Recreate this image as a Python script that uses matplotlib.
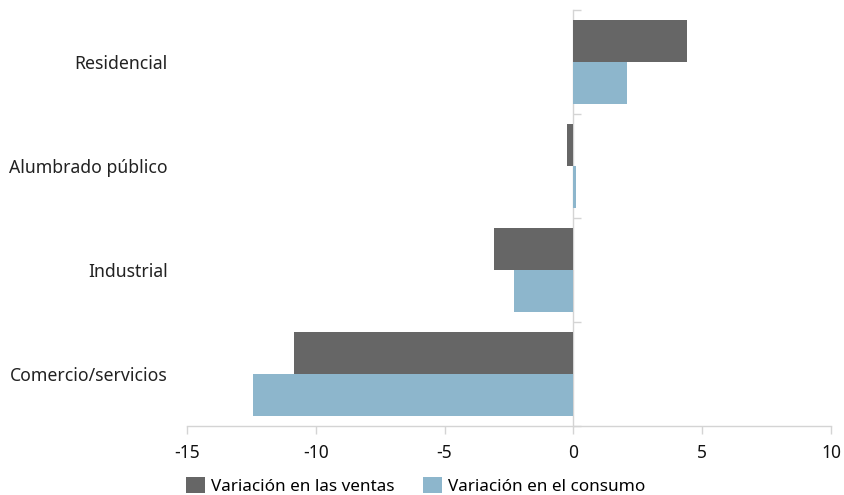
import matplotlib.pyplot as plt
import numpy as np
from matplotlib.patches import Patch

plt.rcParams['font.family'] = ['Noto Sans', 'DejaVu Sans']
plt.rcParams['axes.unicode_minus'] = False

categorias = ['Residencial', 'Alumbrado público', 'Industrial', 'Comercio/servicios']
ventas = [4.4, -0.25, -3.1, -10.85]
consumo = [2.1, 0.12, -2.3, -12.45]

color_ventas = '#666666'
color_consumo = '#8db6cc'
gris_eje = '#d4d4d4'

fig = plt.figure(figsize=(8.44, 4.95), dpi=100)
ax = fig.add_axes([187 / 844, 1 - 426 / 495, (831 - 187) / 844, (426 - 10) / 495])

y = np.arange(len(categorias))
alto = 0.4
ax.barh(y - alto / 2, ventas, height=alto, color=color_ventas, label='Variación en las ventas', zorder=3)
ax.barh(y + alto / 2, consumo, height=alto, color=color_consumo, label='Variación en el consumo', zorder=3)

ax.set_xlim(-15, 10)
ax.set_ylim(len(categorias) - 0.5, -0.5)
ax.set_xticks([-15, -10, -5, 0, 5, 10])
ax.tick_params(axis='x', direction='out', length=6, width=1, color=gris_eje,
               labelsize=12.5, labelcolor='#111111', pad=7)

ax.set_yticks(y)
ax.set_yticklabels(categorias)
ax.tick_params(axis='y', length=0, labelsize=12.7, labelcolor='#222222', pad=14)

for lado in ['top', 'right', 'left']:
    ax.spines[lado].set_visible(False)
ax.spines['bottom'].set_color(gris_eje)
ax.spines['bottom'].set_linewidth(1)

# eje vertical en cero con marcas entre categorías
eje0 = ax.secondary_yaxis(15 / 25)
eje0.set_yticks(np.arange(len(categorias) + 1) - 0.5)
eje0.set_yticklabels([])
eje0.tick_params(axis='y', direction='out', length=6, width=1, color=gris_eje)
for sp in eje0.spines.values():
    sp.set_color(gris_eje)
    sp.set_linewidth(1)

handles = [Patch(facecolor=color_ventas, label='Variación en las ventas'),
           Patch(facecolor=color_consumo, label='Variación en el consumo')]
fig.legend(handles=handles, loc='center left', bbox_to_anchor=(186 / 844, 1 - 486 / 495),
           ncol=2, frameon=False, fontsize=12.3, handlelength=1.1, handleheight=1.1,
           handletextpad=0.35, columnspacing=1.7, borderpad=0, borderaxespad=0)

fig.savefig('out.png', dpi=100)
